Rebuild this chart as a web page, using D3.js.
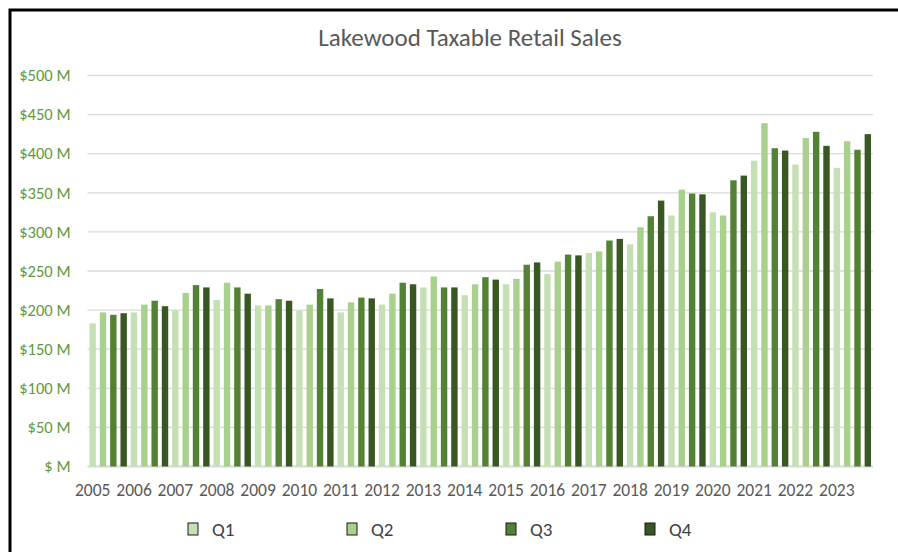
<!DOCTYPE html>
<html>
<head>
<meta charset="utf-8">
<script src="https://cdn.jsdelivr.net/npm/d3@7"></script>
<style>
  body { margin: 0; background: #fff; }
  text { font-family: Carlito, Lato, sans-serif; }
</style>
</head>
<body>
<script>
// Taxable retail sales, $ millions, by quarter
const years = ["2005","2006","2007","2008","2009","2010","2011","2012","2013","2014",
               "2015","2016","2017","2018","2019","2020","2021","2022","2023"];
const quarters = ["Q1", "Q2", "Q3", "Q4"];
const q1 = [183,197,200,213,206,199,197,207,229,219,233,246,273,284,321,325,391,386,382];
const q2 = [197,207,222,235,206,207,210,221,243,233,240,262,275,306,354,321,439,420,416];
const q3 = [194,212,232,229,214,227,216,235,229,242,258,271,289,320,349,366,407,428,405];
const q4 = [196,205,229,221,212,215,215,233,229,239,261,270,291,340,348,372,404,410,425];
const yTicks = [0,50,100,150,200,250,300,350,400,450,500];
const colours = ["#c5e0b4", "#a9d18e", "#548235", "#385723"];

const width = 898, height = 552;
const margin = {top: 75.5, right: 25, bottom: 85.5, left: 87.5};

var svg = d3.select("body").append("svg")
    .attr("width", width)
    .attr("height", height);

// outer frame (runs off the right and bottom edges)
svg.append("rect")
    .attr("x", 10).attr("y", 10)
    .attr("width", width + 10).attr("height", height + 10)
    .attr("fill", "none")
    .attr("stroke", "#000")
    .attr("stroke-width", 3);

// flatten into one row per quarter
var series = [q1, q2, q3, q4];
var data = [];
years.forEach(function(yr, i) {
    quarters.forEach(function(q, j) {
        data.push({key: yr + " " + q, year: yr, q: j, value: series[j][i]});
    });
});

var x = d3.scaleBand()
    .domain(data.map(function(d) { return d.key; }))
    .range([margin.left, width - margin.right])
    .paddingInner(0.38)
    .paddingOuter(0.19);

var y = d3.scaleLinear()
    .domain([0, 500])
    .range([height - margin.bottom, margin.top]);

// gridlines
svg.append("g")
    .selectAll("line")
    .data(yTicks)
    .enter().append("line")
    .attr("x1", margin.left)
    .attr("x2", width - margin.right)
    .attr("y1", function(d) { return y(d); })
    .attr("y2", function(d) { return y(d); })
    .attr("stroke", "#d9d9d9")
    .attr("stroke-width", function(d) { return d === 0 ? 2 : 1.3; });

// bars
svg.append("g")
    .selectAll("rect")
    .data(data)
    .enter().append("rect")
    .attr("x", function(d) { return x(d.key); })
    .attr("width", x.bandwidth())
    .attr("y", function(d) { return y(d.value); })
    .attr("height", function(d) { return y(0) - y(d.value); })
    .attr("fill", function(d) { return colours[d.q]; });

// y axis labels
var yAxis = svg.append("g")
    .attr("transform", "translate(" + (margin.left - 14) + ",0)")
    .call(d3.axisLeft(y)
        .tickValues(yTicks)
        .tickSize(0)
        .tickFormat(function(d) { return d === 0 ? "$ M" : "$" + d + " M"; }));
yAxis.select(".domain").remove();
yAxis.selectAll("text")
    .attr("fill", "#5f9a3c")
    .style("font-size", "16.5px");

// x axis labels, one per year under the Q1 bar
var xAxis = svg.append("g")
    .attr("transform", "translate(0," + (height - margin.bottom) + ")")
    .call(d3.axisBottom(x)
        .tickValues(data.filter(function(d) { return d.q === 0; }).map(function(d) { return d.key; }))
        .tickSize(0)
        .tickPadding(17)
        .tickFormat(function(d) { return d.slice(0, 4); }));
xAxis.select(".domain").remove();
xAxis.selectAll("text")
    .attr("fill", "#595959")
    .style("font-size", "17.5px");

// title
svg.append("text")
    .attr("x", 470)
    .attr("y", 46)
    .attr("text-anchor", "middle")
    .attr("fill", "#595959")
    .style("font-size", "25px")
    .text("Lakewood Taxable Retail Sales");

// legend
var legendX = [188, 347, 506, 645];
var legend = svg.append("g")
    .selectAll("g")
    .data(quarters)
    .enter().append("g")
    .attr("transform", function(d, i) { return "translate(" + legendX[i] + ",523)"; });

legend.append("rect")
    .attr("width", 10)
    .attr("height", 12)
    .attr("fill", function(d, i) { return colours[i]; })
    .attr("stroke", "#1a1a1a")
    .attr("stroke-width", 1);

legend.append("text")
    .attr("x", 24)
    .attr("y", 13)
    .attr("fill", "#404040")
    .style("font-size", "19px")
    .text(function(d) { return d; });
</script>
</body>
</html>
